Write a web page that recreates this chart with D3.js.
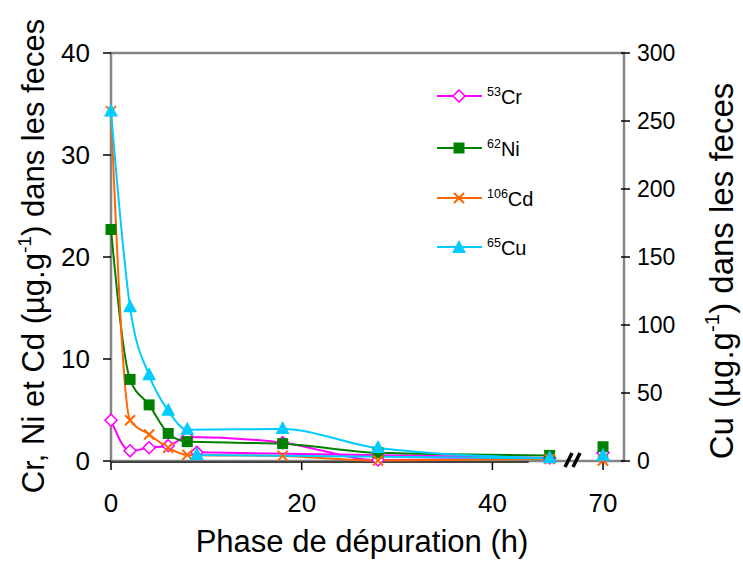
<!DOCTYPE html>
<html>
<head>
<meta charset="utf-8">
<script src="https://cdn.jsdelivr.net/npm/d3@7"></script>
<style>
  html, body { margin: 0; padding: 0; background: #fff; }
  svg { display: block; font-family: "Liberation Sans", Arial, sans-serif; }
</style>
</head>
<body>
<svg id="chart" width="743" height="561"></svg>
<script>
// Hours of depuration; the 70 h sample sits past the axis break.
const hours = [0, 2, 4, 6, 8, 18, 28, 46];
const hourLate = 70;           // label of the sample beyond the break
const hourLatePos = 51.6;      // where that sample is placed on the axis
const hourExtra = 9;           // extra sample joined back to 46 h

// Concentrations (µg.g-1) in faeces
const cr = [4.0, 1.0, 1.3, 1.5, 2.35, 1.8, 0.1, 0.3];
const crExtra = 0.85, crLate = 0.8;
const ni = [22.7, 8.0, 5.5, 2.7, 1.9, 1.7, 0.8, 0.55];
const niLate = 1.4;
const cd = [34.3, 4.0, 2.6, 1.3, 0.6, 0.5, 0.05, 0.2];
const cdLate = 0.05;
const cu = [257, 113, 63, 37, 23, 23.5, 9.5, 2.0];
const cuExtra = 4.4, cuLate = 3.8;

const leftTicks = [0, 10, 20, 30, 40];
const rightTicks = [0, 50, 100, 150, 200, 250, 300];
const xTicks = [0, 20, 40];

const svg = d3.select("#chart");
const L = 111, R = 624, T = 53, B = 461;

const x = d3.scaleLinear().domain([0, 53.8]).range([L, R]);
const yL = d3.scaleLinear().domain([0, 40]).range([B, T]);
const yR = d3.scaleLinear().domain([0, 300]).range([B, T]);

// plot frame
svg.append("rect").attr("x", L).attr("y", T).attr("width", R - L).attr("height", B - T)
  .attr("fill", "none").attr("stroke", "#858585").attr("stroke-width", 2.5);
// bottom axis line
svg.append("line").attr("x1", L).attr("x2", x(43.8)).attr("y1", B + 1).attr("y2", B + 1)
  .attr("stroke", "#444").attr("stroke-width", 2);

// left axis ticks + labels
const gl = svg.append("g");
leftTicks.forEach(v => {
  gl.append("line").attr("x1", L - 8).attr("x2", L).attr("y1", yL(v)).attr("y2", yL(v))
    .attr("stroke", "#000").attr("stroke-width", 1.5);
  gl.append("text").attr("x", 90).attr("y", yL(v) + 9).attr("text-anchor", "end")
    .attr("font-size", 26).text(v);
});
// right axis ticks + labels
rightTicks.forEach(v => {
  gl.append("line").attr("x1", R - 3).attr("x2", R + 6).attr("y1", yR(v)).attr("y2", yR(v))
    .attr("stroke", "#000").attr("stroke-width", 1.5);
  gl.append("text").attr("x", 637).attr("y", yR(v) + 8).attr("text-anchor", "start")
    .attr("font-size", 23).text(v);
});
// x ticks + labels
const xt = xTicks.map(v => ({pos: v, label: v})).concat([{pos: hourLatePos, label: hourLate}]);
xt.forEach(d => {
  gl.append("line").attr("x1", x(d.pos)).attr("x2", x(d.pos)).attr("y1", B + 1).attr("y2", B + 9)
    .attr("stroke", "#000").attr("stroke-width", 1.5);
  gl.append("text").attr("x", x(d.pos)).attr("y", 512).attr("text-anchor", "middle")
    .attr("font-size", 26).text(d.label);
});

// axis break
[0, 8].forEach(dx => {
  svg.append("line").attr("x1", 565 + dx).attr("y1", 467).attr("x2", 572 + dx).attr("y2", 453)
    .attr("stroke", "#000").attr("stroke-width", 3.5);
});

// axis titles
svg.append("text").attr("x", 362).attr("y", 552).attr("text-anchor", "middle")
  .attr("font-size", 31).text("Phase de dépuration (h)");

function titleWithSup(g, pre, sup, post, size) {
  const t = g.append("text").attr("text-anchor", "middle").attr("font-size", size);
  t.append("tspan").text(pre);
  t.append("tspan").attr("font-size", size * 0.62).attr("dy", -size * 0.42).text(sup);
  t.append("tspan").attr("dy", size * 0.42).text(post);
  return t;
}
titleWithSup(svg.append("g").attr("transform", "translate(44,256) rotate(-90)"),
  "Cr, Ni et Cd (µg.g", "-1", ") dans les feces", 31);
titleWithSup(svg.append("g").attr("transform", "translate(733,271) rotate(-90)"),
  "Cu (µg.g", "-1", ") dans les feces", 33);

// series, drawn as smoothed lines
const curve = d3.curveMonotoneX;
function pts(vals, extra) {
  const p = hours.map((h, i) => [h, vals[i]]);
  if (extra !== undefined) p.push([hourExtra, extra]);
  return p;
}
const series = [
  {name: "Cr", iso: "53", color: "#ff00ff", y: yL, p: pts(cr, crExtra), late: crLate, extra: crExtra, sym: "diamond"},
  {name: "Ni", iso: "62", color: "#008000", y: yL, p: pts(ni), late: niLate, sym: "square"},
  {name: "Cd", iso: "106", color: "#ff6600", y: yL, p: pts(cd), late: cdLate, sym: "cross"},
  {name: "Cu", iso: "65", color: "#00ccff", y: yR, p: pts(cu, cuExtra), late: cuLate, extra: cuExtra, sym: "triangle"},
];

function marker(g, sym, color, cx, cy) {
  if (sym === "diamond") {
    g.append("path").attr("d", `M${cx},${cy - 6}L${cx + 6},${cy}L${cx},${cy + 6}L${cx - 6},${cy}Z`)
      .attr("fill", "#fff").attr("stroke", color).attr("stroke-width", 1.6);
  } else if (sym === "square") {
    g.append("rect").attr("x", cx - 5.5).attr("y", cy - 5.5).attr("width", 11).attr("height", 11)
      .attr("fill", color);
  } else if (sym === "cross") {
    g.append("path").attr("d", `M${cx - 5},${cy - 5}L${cx + 5},${cy + 5}M${cx - 5},${cy + 5}L${cx + 5},${cy - 5}`)
      .attr("stroke", color).attr("stroke-width", 2);
  } else if (sym === "triangle") {
    g.append("path").attr("d", `M${cx},${cy - 8}L${cx + 7},${cy + 5}L${cx - 7},${cy + 5}Z`)
      .attr("fill", color);
  }
}

series.forEach(s => {
  const line = d3.line().x(d => x(d[0])).y(d => s.y(d[1])).curve(curve);
  svg.append("path").attr("d", line(s.p.slice(0, hours.length)))
    .attr("fill", "none").attr("stroke", s.color).attr("stroke-width", 2);
  if (s.extra !== undefined) {
    const seg = d3.line().x(d => x(d[0])).y(d => s.y(d[1]));
    svg.append("path").attr("d", seg([s.p[hours.length - 1], [hourExtra, s.extra]]))
      .attr("fill", "none").attr("stroke", s.color).attr("stroke-width", 2);
  }
});
series.forEach(s => {
  const g = svg.append("g");
  s.p.forEach(d => marker(g, s.sym, s.color, x(d[0]), s.y(d[1])));
  marker(g, s.sym, s.color, x(hourLatePos), s.y(s.late));
});

// legend
const legY = [96, 148, 198, 247];
series.forEach((s, i) => {
  const g = svg.append("g");
  g.append("line").attr("x1", 437).attr("x2", 482).attr("y1", legY[i]).attr("y2", legY[i])
    .attr("stroke", s.color).attr("stroke-width", 2);
  marker(g, s.sym, s.color, 459, legY[i] + (s.sym === "triangle" ? 1 : 0));
  const t = g.append("text").attr("x", 487).attr("y", legY[i] + 8).attr("font-size", 20);
  t.append("tspan").attr("font-size", 12.5).attr("dy", -8).text(s.iso);
  t.append("tspan").attr("dy", 8).text(s.name);
});
</script>
</body>
</html>
